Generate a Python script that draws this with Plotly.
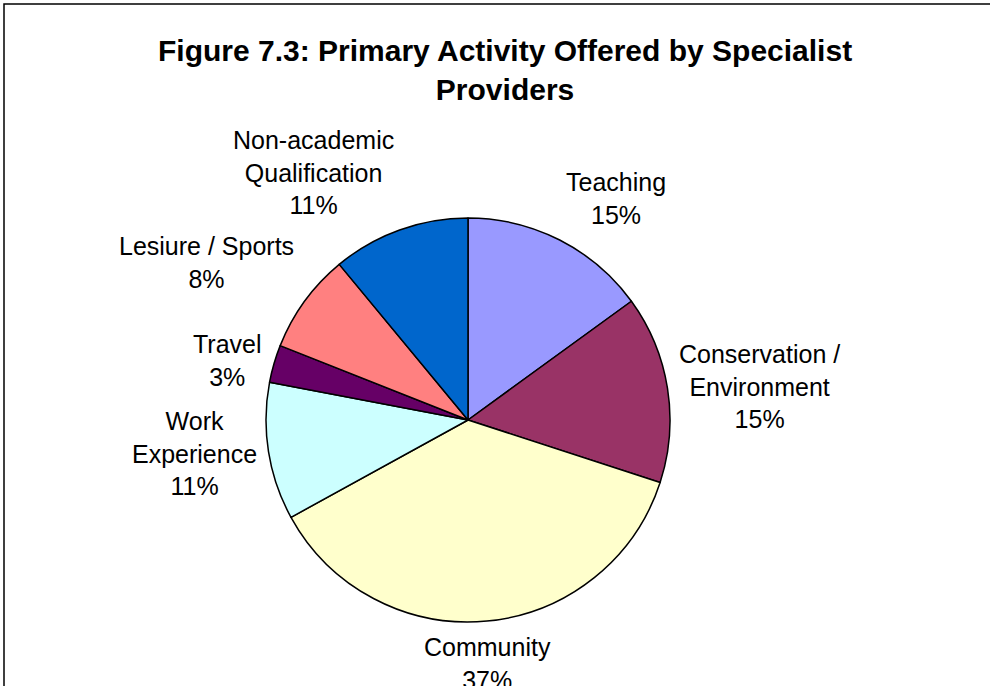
import math
import plotly.graph_objects as go

categories = ["Teaching", "Conservation /<br>Environment", "Community", "Work<br>Experience",
              "Travel", "Lesiure / Sports", "Non-academic<br>Qualification"]
values = [15, 15, 37, 11, 3, 8, 11]
colors = ["#9999FF", "#993366", "#FFFFCC", "#CCFFFF", "#660066", "#FF8080", "#0066CC"]
title_text = "<b>Figure 7.3: Primary Activity Offered by Specialist<br>Providers</b>"

W, H = 990, 686
cx, cy, r = 468, 420, 202
gap = 10
FONT = "Liberation Sans, Arial, sans-serif"

fig = go.Figure(go.Pie(
    labels=categories,
    values=values,
    sort=False,
    direction="clockwise",
    rotation=0,
    marker=dict(colors=colors, line=dict(color="black", width=1.5)),
    textinfo="none",
    showlegend=False,
    hoverinfo="skip",
    domain=dict(x=[(cx - r) / W, (cx + r) / W], y=[1 - (cy + r) / H, 1 - (cy - r) / H]),
))

# data labels placed outside each slice along its mid-angle (Excel-style)
annotations = []
total = sum(values)
cum = 0
for cat, v in zip(categories, values):
    mid = (cum + v / 2) / total * 2 * math.pi
    cum += v
    s, c = math.sin(mid), math.cos(mid)
    px = cx + (r + gap) * s
    py = cy - (r + gap) * c
    xa = "left" if s > 0.3 else ("right" if s < -0.3 else "center")
    ya = "bottom" if c > 0.3 else ("top" if c < -0.3 else "middle")
    annotations.append(dict(
        x=px / W, y=1 - py / H, xref="paper", yref="paper",
        xanchor=xa, yanchor=ya, showarrow=False, align="center",
        text=f"{cat}<br>{round(v / total * 100)}%",
        font=dict(family=FONT, size=25, color="black"),
    ))

annotations.append(dict(
    x=505 / W, y=1 - 70 / H, xref="paper", yref="paper",
    xanchor="center", yanchor="middle", showarrow=False, align="center",
    text=title_text, font=dict(family=FONT, size=30, color="black"),
))

fig.update_layout(
    width=W, height=H,
    margin=dict(l=0, r=0, t=0, b=0),
    paper_bgcolor="white",
    annotations=annotations,
    shapes=[dict(type="rect", xref="paper", yref="paper",
                 x0=4 / W, x1=1.02, y0=-0.02, y1=1 - 4 / H,
                 line=dict(color="black", width=1.5), fillcolor="rgba(0,0,0,0)")],
)

fig.write_html("out.html", config={"displayModeBar": False},
               post_script="document.body.style.margin='0';")
